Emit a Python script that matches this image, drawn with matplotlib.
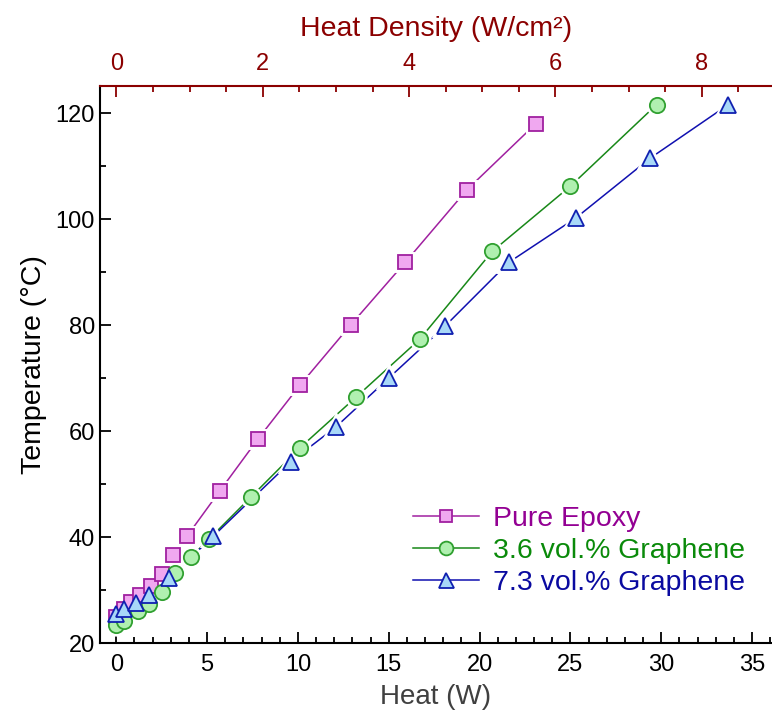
import numpy as np
import matplotlib
matplotlib.use("Agg")
import matplotlib.pyplot as plt
from matplotlib.ticker import MultipleLocator

plt.rcParams['font.family'] = ['Liberation Sans', 'DejaVu Sans']

# data (heat in W, temperature in degC)
epoxy_heat = [0.0, 0.4, 0.8, 1.3, 1.9, 2.5, 3.1, 3.9, 5.7, 7.8, 10.1, 12.9, 15.9, 19.3, 23.1]
epoxy_temp = [25.0, 26.5, 27.8, 29.0, 30.8, 33.0, 36.6, 40.2, 48.7, 58.5, 68.6, 80.0, 91.8, 105.5, 118.0]

g36_heat = [0.0, 0.4, 1.2, 1.8, 2.5, 3.25, 4.1, 5.1, 7.4, 10.1, 13.2, 16.7, 20.7, 25.0, 29.75]
g36_temp = [23.4, 24.2, 26.0, 27.4, 29.7, 33.2, 36.2, 39.6, 47.5, 56.8, 66.4, 77.3, 93.9, 106.2, 121.6]

g73_heat = [0.0, 0.45, 1.1, 1.8, 2.9, 5.35, 9.6, 12.1, 15.0, 18.1, 21.6, 25.3, 29.4, 33.7]
g73_temp = [25.4, 26.4, 27.6, 29.0, 32.2, 40.2, 54.2, 60.8, 70.0, 79.8, 91.8, 100.2, 111.5, 121.6]

labels = ["Pure Epoxy", "3.6 vol.% Graphene", "7.3 vol.% Graphene"]
area_factor = 4.03  # W per (W/cm2)

fig = plt.figure(figsize=(7.72, 7.22), dpi=100)
ax = fig.add_axes([0.1295, 0.1094, 0.8705, 0.7715])

series = [
    (epoxy_heat, epoxy_temp, 's', 9.5, '#a020a0', '#f0a8f0', '#a020a0', '#930093'),
    (g36_heat, g36_temp, 'o', 11, '#188818', '#b0f0b0', '#30a030', '#0a8a0a'),
    (g73_heat, g73_temp, '^', 12, '#1010b0', '#a8d8f8', '#1020b0', '#0a0aa0'),
]

handles = []
for (x, y, m, ms, lc, fc, ec, tc), lab in zip(series, labels):
    ax.plot(x, y, color=lc, lw=1.1, zorder=2)
    # white halo so lines stop short of the markers
    ax.plot(x, y, ls='none', marker=m, ms=ms, mfc='white', mec='white', mew=5, zorder=3)
    ax.plot(x, y, ls='none', marker=m, ms=ms, mfc=fc, mec=ec, mew=1.3, zorder=4)
    h, = ax.plot([], [], color=lc, lw=1.1, marker=m, ms=ms * 0.9, mfc=fc, mec=ec, mew=1.3)
    handles.append(h)

ax.set_xlim(-0.9, 36.1)
ax.set_ylim(20, 125.1)
ax.xaxis.set_major_locator(MultipleLocator(5))
ax.xaxis.set_minor_locator(MultipleLocator(1))
ax.yaxis.set_major_locator(MultipleLocator(20))
ax.yaxis.set_minor_locator(MultipleLocator(10))
ax.tick_params(which='both', direction='in', labelsize=17, width=1.3, top=False, right=False)
ax.tick_params(which='major', length=8)
ax.tick_params(which='minor', length=4.5)
ax.tick_params(axis='x', pad=8)
ax.spines['right'].set_visible(False)
ax.spines['top'].set_visible(False)
for s in ('left', 'bottom'):
    ax.spines[s].set_linewidth(1.5)

ax.set_xlabel("Heat (W)", fontsize=20, color='#404040', labelpad=6)
ax.set_ylabel("Temperature (°C)", fontsize=20.5, labelpad=6)

# top axis: heat density
top = ax.twiny()
top.set_xlim(-0.9 / area_factor, 36.1 / area_factor)
top.xaxis.set_major_locator(MultipleLocator(2))
top.xaxis.set_minor_locator(MultipleLocator(0.5))
dred = '#8b0000'
top.tick_params(which='both', direction='in', labelsize=17, width=1.3, colors=dred, pad=8)
top.tick_params(which='major', length=8)
top.tick_params(which='minor', length=4.5)
for s in ('left', 'right', 'bottom'):
    top.spines[s].set_visible(False)
top.spines['top'].set_color(dred)
top.spines['top'].set_linewidth(1.5)
top.set_xlabel("Heat Density (W/cm²)", fontsize=20.5, color=dred, labelpad=12)

leg = ax.legend(handles, labels, loc='lower left', bbox_to_anchor=(0.466, 0.085),
                frameon=False, fontsize=20.5, handlelength=2.3, handletextpad=0.5,
                labelspacing=0.2, borderpad=0, borderaxespad=0)
for t, s in zip(leg.get_texts(), series):
    t.set_color(s[7])

fig.savefig("out.png", dpi=100)
